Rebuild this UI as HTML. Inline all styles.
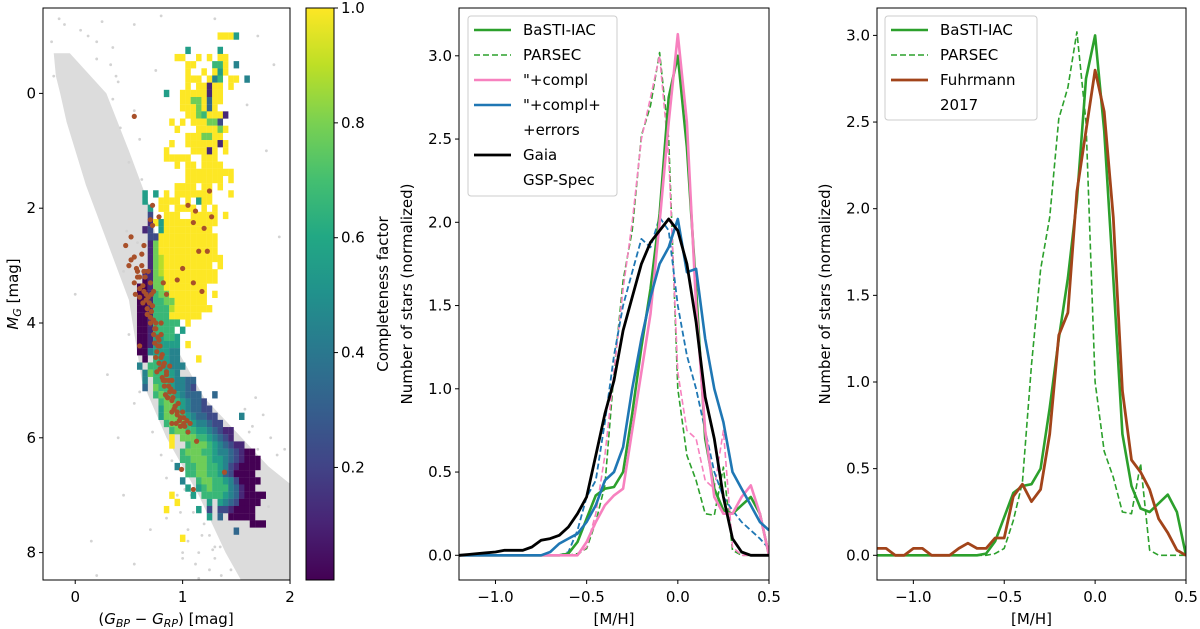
<!DOCTYPE html>
<html><head><meta charset="utf-8"><style>
html,body{margin:0;padding:0;background:#fff;}
svg{display:block;font-family:"DejaVu Sans","Liberation Sans",sans-serif;}
</style></head><body>
<svg id="fig" width="1200" height="629" viewBox="0 0 1200 629" xmlns="http://www.w3.org/2000/svg">
<defs>
<linearGradient id="viridis" x1="0" y1="1" x2="0" y2="0">
<stop offset="0" stop-color="#440154"/><stop offset="0.1" stop-color="#482475"/><stop offset="0.2" stop-color="#414487"/><stop offset="0.3" stop-color="#355f8d"/><stop offset="0.4" stop-color="#2a788e"/><stop offset="0.5" stop-color="#21918c"/><stop offset="0.6" stop-color="#22a884"/><stop offset="0.7" stop-color="#44bf70"/><stop offset="0.8" stop-color="#7ad151"/><stop offset="0.9" stop-color="#bddf26"/><stop offset="1" stop-color="#fde725"/>
</linearGradient>
<clipPath id="c1"><rect x="43" y="8" width="247" height="572"/></clipPath>
<clipPath id="c2"><rect x="459" y="8" width="310" height="572"/></clipPath>
<clipPath id="c3"><rect x="877" y="8" width="309" height="572"/></clipPath>
</defs>
<g id="p1"></g>
<g id="cb"></g>
<g id="p2"></g>
<g id="p3"></g>
</svg>
<script>
// ---------- Panel 1 data ----------
const greyBandColor = [-0.2,-0.05,0.29,0.5,0.7,0.8,0.9,1.2,1.55,1.8,2.0,2.0,1.55,1.4,1.15,0.85,0.62,0.5,0.3,0.1,-0.08,-0.14,-0.18];
const greyBandMag   = [-0.7,-0.7,0.0,1.0,2.0,3.0,4.3,5.3,6.0,6.5,6.8,8.5,8.5,8.0,7.0,6.0,5.0,3.6,2.6,1.6,0.5,0.0,-0.3];
const greyDotColor = [-0.15,0.05,0.2,0.35,0.55,0.8,1.3,1.7,1.85,-0.2,0.4,0.75,1.6,1.78,1.9,0.0,0.3,0.6,0.9,1.2,1.45,1.8,1.95,0.15,0.45,0.7,1.0,1.25,0.55,0.85,1.05,0.2,0.4,1.15,1.35,1.65,
 0.35,0.42,0.5,0.38,0.55,0.62,0.33,0.2,0.48,0.58,0.45,0.68,0.5,0.55,0.72,0.8,0.85,0.95,1.1,1.18,1.3,1.02,1.42,1.5,1.62,1.7,1.75,1.82,1.88,1.68,1.58,-0.22,-0.1,0.12,0.25,0.6,0.65,
 1.05,1.12,1.2,1.3,1.36,0.98,1.08,1.25,1.45,1.0,1.15,1.28];
const greyDotMag   = [-1.3,-1.1,-0.9,-0.8,-1.2,-1.35,-1.3,-1.0,-0.5,-0.3,-0.2,-0.4,0.2,1.0,2.5,3.5,4.9,5.2,6.4,6.9,7.4,7.2,6.2,7.8,7.0,7.6,8.1,8.3,8.2,7.4,7.8,8.4,6.0,8.0,7.9,5.8,
 0.1,0.6,1.2,-0.3,0.3,1.5,-0.5,-0.6,2.4,2.6,3.1,4.6,4.2,5.4,5.9,6.3,6.7,7.0,7.3,7.7,7.9,6.9,6.4,6.1,5.9,6.2,5.6,6.0,6.3,5.3,5.5,-0.9,-1.2,-1.0,-1.25,0.8,1.9,
 7.6,8.2,7.5,8.1,8.4,7.3,7.0,7.7,8.3,8.0,8.45,7.95];
const heatStartMag = -1.0;
const heatRows = [
".................9995.....","..........................","...........5.....5........",".........99..9.9.99.......",
"...........99...669.4.....","...........9..9.959.......","...........999.946.99.4...","...........9.99199.9......",
".......5..99999199........","..........99779399........","..........9997939.........","...........99769991.......",
"........9.9.999772........",".........9...999979.......","...........9997799........","........9..99999919.......",
".......9....99919.9.......",".......99999..999.........",".........9.99.9999........","...........999999999......",
"...........9999999.9......",".........9999.99.9........","...5.5.9.9999999...9......","...5..9999.9.599..........",
"....5.99.9999.9.9.........","....2..999..99999.9.......","....1959999999999.........","...12.5999999999..........",
"....2299999999999.........","....1799999999999.........","....1799999999999.........","....17899999999999........",
"....178999999999.9........","...11789999999999.........","...01779999999999.........","..0017799999999...........",
"..0016779999999.9.........","..0016677999999...........","..00166689999999..........","..001666999999............",
"..00166666.9..............","..0016666.5...............","..00155665................","..00155555.9..............",
"..00455544................","...0.65544...9............","..4.6655444...............","...4766554................",
"...4.66654433.............","...3.76654432.............",".....676654333..3.........","......677654332...........",
"......5776543322..........","......57776543322....4....",".......67776544322........","........677665543211......",
"........9.7776654321......","........9..67776543211....","..........67776654432100..","..........667776554321000.",
".........4.66776654210000.","...........6677665320000..","..........4..677665420000.","...........5.56766643100...",
"........9...5.666654310000",".........9.....5.54320000.",".......9.....5.2.2210000..","...............5.3.00000..",
".......................000","....................3.....","..........9..............."
];
const brownColor = [0.47,0.52,0.55,0.5,0.58,0.62,0.55,0.6,0.65,0.7,0.68,0.72,0.7,0.75,0.73,0.78,0.76,0.8,0.82,0.85,0.83,0.88,0.9,0.92,0.95,0.97,1.0,1.02,1.05,0.9,0.8,0.66,0.62,0.72,0.7,0.72,0.78,1.05,1.12,1.25,1.27,1.2,1.1,1.15,1.23,1.0,0.95,1.1,0.85,0.82,1.18,0.55,0.6,1.13,0.99,1.1,1.39,0.9,0.74,0.77,0.79,0.81,0.84,0.86,0.87,0.93,0.96,0.64,0.67,0.71,0.75,0.68,0.58,0.63,0.98,1.01,1.07,
 0.57,0.6,0.63,0.66,0.69,0.71,0.73,0.75,0.77,0.79,0.81,0.83,0.85,0.87,0.89,0.91,0.93,0.95,0.98,1.01,0.6,0.64,0.7,0.74,0.78,0.82,0.86,0.9,0.94,1.04,0.67,0.76,0.84,0.92,0.88,0.8,0.73,0.56,0.52,0.64];
const brownMag   = [2.65,2.5,2.85,3.0,3.1,3.0,3.3,3.4,3.2,3.3,3.55,3.7,3.9,4.0,4.2,4.3,4.5,4.6,4.75,4.9,5.1,5.2,5.35,5.5,5.6,5.7,5.55,5.8,5.9,5.0,4.2,3.6,2.8,2.3,2.2,1.95,2.15,1.95,2.05,1.7,2.15,2.35,2.25,2.75,2.75,3.05,3.25,3.3,3.5,3.3,3.45,0.4,4.4,6.06,6.55,6.9,6.6,5.75,4.1,4.4,4.8,4.95,5.0,5.3,5.1,5.45,5.4,3.45,3.75,3.5,4.6,3.1,3.2,3.65,5.8,5.65,5.75,
 3.05,3.2,3.35,3.5,3.65,3.8,3.95,4.1,4.25,4.4,4.55,4.7,4.85,5.0,5.15,5.3,5.45,5.55,5.65,5.75,3.55,3.1,4.0,4.35,4.7,5.0,5.3,5.55,5.75,5.7,3.85,4.85,5.25,5.2,4.75,4.0,3.45,3.5,2.9,2.65];

// ---------- Panel 2/3 data (bins from -1.20 step 0.05) ----------
const mhBins = [-1.2,-1.15,-1.1,-1.05,-1.0,-0.95,-0.9,-0.85,-0.8,-0.75,-0.7,-0.65,-0.6,-0.55,-0.5,-0.45,-0.4,-0.35,-0.3,-0.25,-0.2,-0.15,-0.1,-0.05,0.0,0.05,0.1,0.15,0.2,0.25,0.3,0.35,0.4,0.45,0.5];
const basti   = [0,0,0,0,0,0,0,0,0,0,0,0,0.01,0.08,0.22,0.36,0.4,0.41,0.5,0.85,1.25,1.6,2.05,2.75,3.0,2.45,1.6,0.7,0.4,0.27,0.25,0.3,0.35,0.25,0.0];
const parsec  = [0,0,0,0,0,0,0,0,0,0,0,0,0,0.01,0.04,0.2,0.42,1.1,1.65,1.95,2.52,2.7,3.02,2.5,1.0,0.6,0.45,0.25,0.24,0.53,0.03,0,0,0,0];
const compl   = [0,0,0,0,0,0,0,0,0,0,0,0,0,0,0.08,0.2,0.3,0.36,0.4,0.75,1.1,1.45,2.0,2.6,3.13,2.6,1.5,0.75,0.35,0.25,0.25,0.35,0.42,0.25,0.0];
const complD  = [0,0,0,0,0,0,0,0,0,0,0,0,0,0,0.05,0.25,0.6,1.1,1.6,2.0,2.5,2.75,3.0,2.4,1.1,0.75,0.7,0.45,0.4,0.75,0.05,0,0,0,0];
const complErr  = [0,0,0,0,0,0,0,0,0,0,0.02,0.07,0.1,0.13,0.2,0.3,0.45,0.5,0.65,1.0,1.3,1.55,1.75,1.85,2.02,1.7,1.72,1.3,1.0,0.8,0.5,0.4,0.3,0.2,0.15];
const complErrD = [0,0,0,0,0,0,0,0,0,0,0,0,0.02,0.15,0.35,0.45,0.8,1.2,1.5,1.7,1.9,1.85,2.03,1.95,1.5,1.2,1.0,0.75,0.5,0.35,0.27,0.2,0.15,0.1,0.04];
const gaia    = [0,0.005,0.01,0.015,0.02,0.03,0.03,0.03,0.05,0.09,0.1,0.12,0.17,0.25,0.35,0.6,0.85,1.05,1.35,1.55,1.75,1.88,1.95,2.02,1.95,1.75,1.4,0.95,0.7,0.35,0.1,0.02,0,0,0];
const fuhrmann= [0.04,0.04,0,0,0.04,0.04,0,0,0,0.04,0.07,0.04,0.04,0.1,0.1,0.34,0.41,0.31,0.38,0.7,1.27,1.4,2.1,2.45,2.8,2.56,1.95,0.95,0.55,0.48,0.38,0.21,0.13,0.03,0.0];
const yTicks = ["0.0","0.5","1.0","1.5","2.0","2.5","3.0"];
const xTicksMH = [-1.0,-0.5,0.0,0.5];
const cmdXTicks = [0,1,2];
const cmdYTicks = [0,2,4,6,8];
const cbTicks = [0.2,0.4,0.6,0.8,1.0];

const NS="http://www.w3.org/2000/svg";
const FS=15, TOP=8, BOT=580;
function mk(parent,tag,attrs,text){const e=document.createElementNS(NS,tag);for(const k in attrs)e.setAttribute(k,attrs[k]);if(text!==undefined)e.textContent=text;parent.appendChild(e);return e;}
const vir=[[68,1,84],[72,36,117],[65,68,135],[53,95,141],[42,120,142],[33,145,140],[34,168,132],[68,191,112],[122,209,81],[189,223,38],[253,231,37]];
function viridis(t){t=Math.max(0,Math.min(1,t))*10;const i=Math.min(9,Math.floor(t)),f=t-i;const a=vir[i],b=vir[i+1];return `rgb(${a.map((v,k)=>Math.round(v+(b[k]-v)*f)).join(",")})`;}

// ---------- Panel 1 ----------
const X1=c=>43+(c+0.3)*107.4, Y1=m=>93.4+m*57.4;
const p1=document.getElementById('p1');
const g1=mk(p1,'g',{'clip-path':'url(#c1)'});
let pts=greyBandColor.map((c,i)=>X1(c)+','+Y1(greyBandMag[i])).join(' ');
const band=mk(g1,'polygon',{points:pts,fill:'#dcdcdc'});


greyDotColor.forEach((c,i)=>{const d=mk(g1,'circle',{cx:X1(c),cy:Y1(greyDotMag[i]),r:1.4,fill:'#d3d3d3'});

});
heatRows.forEach((row,i)=>{const m=heatStartMag+0.125*i;for(let c=0;c<row.length;c++){const ch=row[c];if(ch==='.')continue;const col=0.5+0.05*c;
const r=mk(g1,'rect',{x:X1(col-0.025),y:Y1(m-0.0625),width:5.5,height:7.3,fill:viridis(+ch/9)});

}});
brownColor.forEach((c,i)=>{const d=mk(g1,'circle',{cx:X1(c),cy:Y1(brownMag[i]),r:2.6,fill:'#a8502a'});

});
mk(p1,'rect',{x:43,y:TOP,width:247,height:BOT-TOP,fill:'none',stroke:'#000','stroke-width':1});
cmdXTicks.forEach(t=>{mk(p1,'line',{x1:X1(t),x2:X1(t),y1:BOT,y2:BOT+4,stroke:'#000'});const l=mk(p1,'text',{x:X1(t),y:602,'font-size':FS,'text-anchor':'middle'},String(t));

});
cmdYTicks.forEach(t=>{mk(p1,'line',{x1:39,x2:43,y1:Y1(t),y2:Y1(t),stroke:'#000'});const l=mk(p1,'text',{x:36,y:Y1(t)+5,'font-size':FS,'text-anchor':'end'},String(t));

});
p1.insertAdjacentHTML('beforeend','<text x="166" y="624" font-size="15" text-anchor="middle">(<tspan font-style="italic">G</tspan><tspan font-style="italic" font-size="11" dy="3">BP</tspan><tspan dy="-3"> − </tspan><tspan font-style="italic">G</tspan><tspan font-style="italic" font-size="11" dy="3">RP</tspan><tspan dy="-3">) [mag]</tspan></text><text transform="translate(18,294) rotate(-90)" font-size="15" text-anchor="middle"><tspan font-style="italic">M</tspan><tspan font-style="italic" font-size="11" dy="3">G</tspan><tspan dy="-3"> [mag]</tspan></text>');

// ---------- Colorbar ----------
const cb=document.getElementById('cb');
const CBY=v=>BOT-(v-0.004)/(0.996)*(BOT-TOP);
mk(cb,'rect',{x:306,y:TOP,width:28,height:BOT-TOP,fill:'url(#viridis)',stroke:'#000','stroke-width':1});
cbTicks.forEach(t=>{mk(cb,'line',{x1:334,x2:338,y1:CBY(t),y2:CBY(t),stroke:'#000'});const l=mk(cb,'text',{x:341,y:CBY(t)+5,'font-size':FS},t.toFixed(1));

});
cb.insertAdjacentHTML('beforeend','<text transform="translate(388,294) rotate(-90)" font-size="15" text-anchor="middle">Completeness factor</text>');

// ---------- Line panels ----------
function linePanel(id,x0,w,ysc,clip,series,legend,legendBox){
  const p=document.getElementById(id);
  const X=v=>x0+(v+1.2)*(w/1.7), Y=v=>555.3-v*ysc;
  const g=mk(p,'g',{'clip-path':`url(#${clip})`});
  series.forEach(s=>{const d=mhBins.map((b,i)=>(i?'L':'M')+X(b).toFixed(1)+' '+Y(s.v[i]).toFixed(1)).join(' ');
    const e=mk(g,'path',{d:d,fill:'none',stroke:s.c,'stroke-width':s.w,'stroke-dasharray':s.dash?'6,3':'none','stroke-linejoin':'round'});
    
    });
  mk(p,'rect',{x:x0,y:TOP,width:w,height:BOT-TOP,fill:'none',stroke:'#000'});
  xTicksMH.forEach(t=>{mk(p,'line',{x1:X(t),x2:X(t),y1:BOT,y2:BOT+4,stroke:'#000'});const l=mk(p,'text',{x:X(t),y:602,'font-size':FS,'text-anchor':'middle'},(t<0?'−':'')+Math.abs(t).toFixed(1));
    
    });
  yTicks.forEach(t=>{const v=+t;mk(p,'line',{x1:x0-4,x2:x0,y1:Y(v),y2:Y(v),stroke:'#000'});const l=mk(p,'text',{x:x0-7,y:Y(v)+5,'font-size':FS,'text-anchor':'end'},t);
    
    });
  const xt=mk(p,'text',{x:x0+w/2,y:624,'font-size':FS,'text-anchor':'middle'},'[M/H]');
  
  
  const yt=mk(p,'text',{transform:`translate(${x0-47},294) rotate(-90)`,'font-size':FS,'text-anchor':'middle'},'Number of stars (normalized)');
  
  
  const lg=mk(p,'g',{});
  
  
  mk(lg,'rect',{x:legendBox[0],y:16,width:legendBox[1],height:legendBox[2],rx:3,fill:'#fff','fill-opacity':0.85,stroke:'#ccc'});
  legend.forEach(e=>{const yy=30+25*e.row;
    if(e.c){mk(lg,'line',{x1:legendBox[0]+6,x2:legendBox[0]+43,y1:yy,y2:yy,stroke:e.c,'stroke-width':e.w,'stroke-dasharray':e.dash?'6,3':'none'});}
    const t=mk(lg,'text',{x:legendBox[0]+55,y:yy+5,'font-size':FS},e.t);
    
    });
}
const GR='#2ca02c',PK='#f781bf',BL='#1f77b4',BR='#a2441a';
linePanel('p2',459,310,166.5,'c2',[
 {v:parsec,c:GR,w:1.6,dash:1,name:'parsec-line'},
 {v:complD,c:PK,w:1.6,dash:1,name:'parsec-compl-line'},
 {v:complErrD,c:BL,w:1.8,dash:1,name:'parsec-compl-errors-line'},
 {v:basti,c:GR,w:2.6,name:'basti-line'},
 {v:compl,c:PK,w:2.6,name:'basti-compl-line'},
 {v:complErr,c:BL,w:2.6,name:'basti-compl-errors-line'},
 {v:gaia,c:'#000',w:2.8,name:'gaia-gsp-spec-line'}],
 [{row:0,t:'BaSTI-IAC',c:GR,w:2.6},{row:1,t:'PARSEC',c:GR,w:1.6,dash:1},{row:2,t:'"+compl',c:PK,w:2.6},{row:3,t:'"+compl+',c:BL,w:2.6},{row:4,t:'+errors'},{row:5,t:'Gaia',c:'#000',w:2.8},{row:6,t:'GSP-Spec'}],[468,149,180]);
linePanel('p3',877,309,173.3,'c3',[
 {v:parsec,c:GR,w:1.6,dash:1,name:'parsec-line'},
 {v:basti,c:GR,w:2.6,name:'basti-line'},
 {v:fuhrmann,c:BR,w:2.8,name:'fuhrmann-2017-line'}],
 [{row:0,t:'BaSTI-IAC',c:GR,w:2.6},{row:1,t:'PARSEC',c:GR,w:1.6,dash:1},{row:2,t:'Fuhrmann',c:BR,w:2.8},{row:3,t:'2017'}],[885,152,104]);
</script>
</body></html>
